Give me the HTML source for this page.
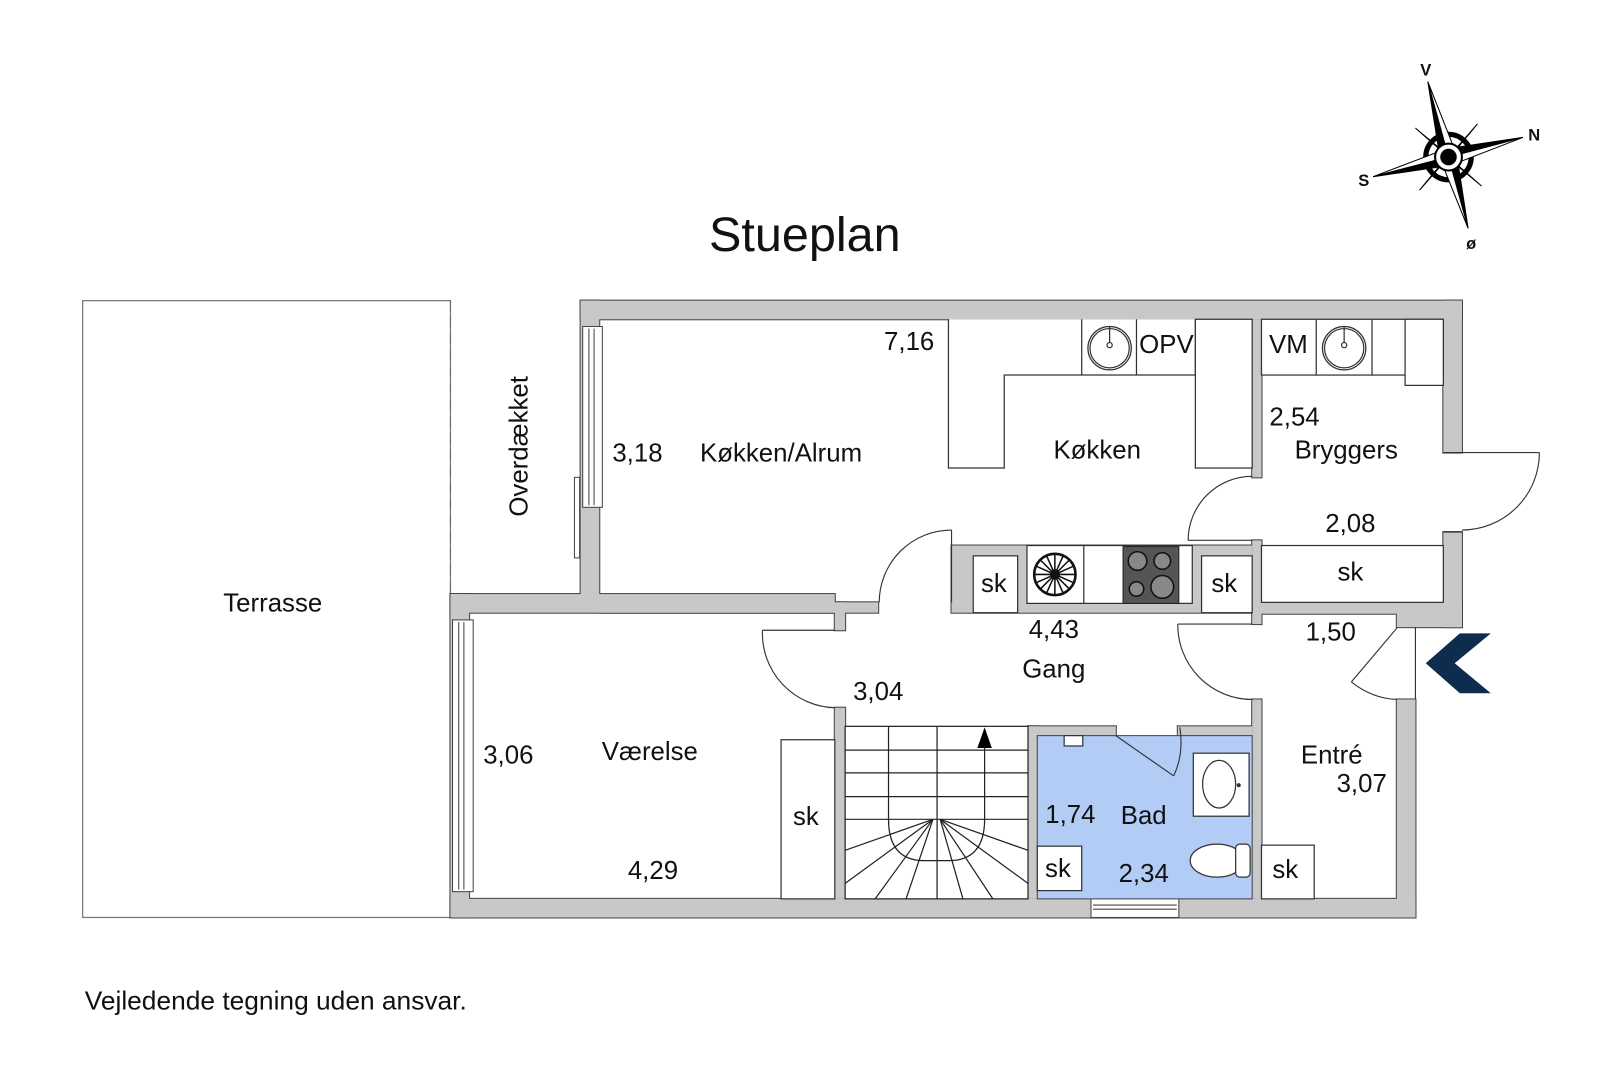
<!DOCTYPE html>
<html><head><meta charset="utf-8"><style>
html,body{margin:0;padding:0;background:#fff;}
svg{display:block;}
text{font-family:"Liberation Sans",Arial,sans-serif;fill:#111;}
</style></head><body>
<svg width="1620" height="1080" viewBox="0 0 1568 1045.3" xmlns="http://www.w3.org/2000/svg">
<defs>
<g id="walls">
<rect x="562" y="291" width="853" height="18"/>
<rect x="562" y="291" width="18" height="292"/>
<rect x="1397" y="291" width="18" height="147"/>
<rect x="1397" y="515" width="18" height="92"/>
<rect x="1212" y="309" width="9" height="153"/>
<rect x="1212" y="523" width="9" height="70"/>
<rect x="436" y="575" width="372" height="18"/>
<rect x="562" y="575" width="18" height="8"/>
<rect x="580" y="583" width="270" height="10"/>
<rect x="921" y="528" width="291" height="65"/>
<rect x="808" y="583" width="10" height="27"/>
<rect x="808" y="685" width="10" height="185"/>
<rect x="1212" y="581" width="185" height="13"/>
<rect x="1352" y="581" width="63" height="26"/>
<rect x="1212" y="581" width="9" height="23"/>
<rect x="1212" y="677" width="9" height="193"/>
<rect x="1352" y="677" width="18" height="211"/>
<rect x="995" y="703" width="85" height="9"/>
<rect x="1140" y="703" width="72" height="9"/>
<rect x="995" y="703" width="9" height="167"/>
<rect x="436" y="870" width="934" height="18"/>
<rect x="436" y="575" width="18" height="313"/>
</g>
</defs>
<rect x="0" y="0" width="1568" height="1046" fill="#fff"/>
<text x="779" y="243" font-size="47" text-anchor="middle">Stueplan</text>
<text x="82" y="977" font-size="25.5">Vejledende tegning uden ansvar.</text>

<rect x="80" y="291" width="356" height="597" fill="#fff" stroke="#777" stroke-width="1.2"/>
<line x1="436" y1="291" x2="436" y2="575" stroke="#666" stroke-width="1" stroke-dasharray="10,6"/>

<use href="#walls" fill="#c8c8c8" stroke="#444" stroke-width="2"/>
<use href="#walls" fill="#c8c8c8" stroke="none"/>

<g fill="#fff" stroke="#444" stroke-width="1">
<rect x="564" y="316" width="19" height="175"/>
<line x1="570" y1="318" x2="570" y2="489"/><line x1="575" y1="318" x2="575" y2="489"/>
<rect x="556" y="462" width="5" height="78"/>
<rect x="438" y="600" width="20" height="263"/>
<line x1="444" y1="602" x2="444" y2="861"/><line x1="449" y1="602" x2="449" y2="861"/>
<rect x="1056" y="866" width="85" height="22"/>
<line x1="1058" y1="876" x2="1139" y2="876"/><line x1="1058" y1="880" x2="1139" y2="880"/>
</g>

<rect x="1004" y="712" width="208" height="158" fill="#b2ccf6" stroke="#444" stroke-width="1"/>

<g fill="#fff" stroke="#333" stroke-width="1.2">
<rect x="942" y="538" width="43" height="55"/>
<rect x="994" y="528" width="160" height="56"/>
<line x1="1049" y1="528" x2="1049" y2="584"/>
<rect x="1163" y="538" width="49" height="55"/>
</g>
<rect x="1087" y="529" width="54" height="55" fill="#555" stroke="#222"/>
<g fill="#888" stroke="#111" stroke-width="1.5">
<circle cx="1101" cy="543" r="9"/><circle cx="1125" cy="543" r="8"/>
<circle cx="1100" cy="570" r="7"/><circle cx="1125" cy="568" r="11"/>
</g>
<g stroke="#111" stroke-width="1.5" fill="none">
<circle cx="1021" cy="556" r="20" stroke-width="2.5"/>
<line x1="1001" y1="556" x2="1041" y2="556"/><line x1="1021" y1="536" x2="1021" y2="576"/>
<line x1="1007" y1="542" x2="1035" y2="570"/><line x1="1035" y1="542" x2="1007" y2="570"/>
<line x1="1003" y1="548" x2="1039" y2="564"/><line x1="1003" y1="564" x2="1039" y2="548"/>
<line x1="1013" y1="538" x2="1029" y2="574"/><line x1="1029" y1="538" x2="1013" y2="574"/>
</g>
<circle cx="1021" cy="556" r="5" fill="#111"/>

<g fill="#fff" stroke="#333" stroke-width="1.2">
<path d="M918 309 L918 453 L972 453 L972 363 L1157 363 L1157 309"/>
<line x1="1047" y1="309" x2="1047" y2="363"/>
<line x1="1100" y1="309" x2="1100" y2="363"/>
<rect x="1157" y="309" width="55" height="144"/>
<rect x="1221" y="309" width="176" height="54"/>
<line x1="1274" y1="309" x2="1274" y2="363"/>
<line x1="1328" y1="309" x2="1328" y2="363"/>
<line x1="1360" y1="309" x2="1360" y2="363"/>
<rect x="1360" y="309" width="37" height="64"/>
<rect x="1221" y="528" width="176" height="55"/>
<rect x="756" y="716" width="52" height="154"/>
<rect x="1221" y="818" width="51" height="52"/>
</g>
<g fill="none" stroke="#333" stroke-width="1.2">
<circle cx="1074" cy="337" r="21"/><circle cx="1074" cy="337" r="19"/>
<circle cx="1301" cy="337" r="21"/><circle cx="1301" cy="337" r="19"/>
<line x1="1074" y1="316" x2="1074" y2="332"/><circle cx="1074" cy="334" r="2.5"/>
<line x1="1301" y1="316" x2="1301" y2="332"/><circle cx="1301" cy="334" r="2.5"/>
</g>

<g fill="none" stroke="#333" stroke-width="1.1">
<line x1="921" y1="513" x2="921" y2="583"/><path d="M921 513 A70 70 0 0 0 851 583"/>
<line x1="1150" y1="523" x2="1212" y2="523"/><path d="M1150 523 A62 62 0 0 1 1212 461"/>
<line x1="1415" y1="438" x2="1490" y2="438"/><path d="M1490 438 A75 75 0 0 1 1415 513"/>
<line x1="1397" y1="438" x2="1415" y2="438"/><line x1="1397" y1="515" x2="1415" y2="515"/>
<line x1="738" y1="610" x2="808" y2="610"/><path d="M738 610 A72 72 0 0 0 808 685"/>
<line x1="1140" y1="604" x2="1212" y2="604"/><path d="M1140 604 A72 72 0 0 0 1212 677"/>
<line x1="1352" y1="608" x2="1308" y2="660"/><path d="M1308 660 Q1328 676 1352 677"/>
<line x1="1370" y1="607" x2="1370" y2="677"/>
<line x1="1080" y1="712" x2="1136" y2="751"/><path d="M1136 751 Q1146 730 1142 704"/>
</g>

<g fill="#fff" stroke="#333" stroke-width="1.2">
<rect x="1155" y="729" width="54" height="61"/>
<ellipse cx="1180" cy="759" rx="16" ry="23"/>
<ellipse cx="1178" cy="833" rx="26" ry="16"/>
<rect x="1196" y="817" width="14" height="32" rx="4"/>
<rect x="1004" y="819" width="43" height="43"/>
<rect x="1030" y="712" width="18" height="10"/>
</g>
<circle cx="1199" cy="760" r="2" fill="#333"/>

<rect x="818" y="703" width="177" height="167" fill="#fff" stroke="#222" stroke-width="1.2"/>
<g fill="none" stroke="#222" stroke-width="1.2">
<line x1="818" y1="726" x2="995" y2="726"/>
<line x1="818" y1="748" x2="995" y2="748"/>
<line x1="818" y1="771" x2="995" y2="771"/>
<line x1="818" y1="793" x2="995" y2="793"/>
<line x1="860" y1="703" x2="860" y2="793"/>
<line x1="907" y1="703" x2="907" y2="870"/>
<line x1="953" y1="720" x2="953" y2="793"/>
<path d="M860 793 Q860 833 895 833 L918 833 Q953 833 953 793"/>
<line x1="903" y1="793" x2="818" y2="823"/>
<line x1="903" y1="793" x2="818" y2="855"/>
<line x1="903" y1="793" x2="847" y2="870"/>
<line x1="903" y1="793" x2="877" y2="870"/>
<line x1="910" y1="793" x2="932" y2="870"/>
<line x1="910" y1="793" x2="961" y2="870"/>
<line x1="910" y1="793" x2="995" y2="855"/>
<line x1="910" y1="793" x2="995" y2="823"/>
</g>
<polygon points="953,704 946,724 960,724" fill="#000"/>

<polygon points="1380,642 1413,613 1443,613 1408,642 1443,671 1413,671" fill="#0d2c4e"/>

<g transform="translate(1402,152)">
<circle r="22" fill="none" stroke="#000" stroke-width="5"/>
<g stroke="#000" stroke-width="1">
<polygon points="-32,-28 0,0 -3,-4" fill="#000"/>
<polygon points="28,-32 0,0 4,-3" fill="#000"/>
<polygon points="32,28 0,0 3,4" fill="#000"/>
<polygon points="-28,32 0,0 -4,3" fill="#000"/>
</g>
<g stroke="#000" stroke-width="1">
<polygon points="-20,-73 -8,2 0,0" fill="#000"/><polygon points="-20,-73 8,-2 0,0" fill="#fff"/>
<polygon points="72,-19 2,8 0,0" fill="#fff"/><polygon points="72,-19 -2,-8 0,0" fill="#000"/>
<polygon points="-73,19 -2,-8 0,0" fill="#fff"/><polygon points="-73,19 2,8 0,0" fill="#000"/>
<polygon points="19,69 8,-2 0,0" fill="#000"/><polygon points="19,69 -8,2 0,0" fill="#fff"/>
</g>
<circle r="13" fill="#fff" stroke="#000" stroke-width="2"/>
<circle r="8" fill="#000"/>
</g>
<g font-size="16" font-weight="bold" text-anchor="middle">
<text x="1380" y="73">V</text>
<text x="1485" y="136">N</text>
<text x="1320" y="180">S</text>
<text x="1424" y="241">ø</text>
</g>

<g font-size="25" text-anchor="middle" dominant-baseline="central">
<text x="880" y="331">7,16</text>
<text x="617" y="439">3,18</text>
<text x="756" y="439">Køkken/Alrum</text>
<text x="1062" y="436">Køkken</text>
<text x="1129" y="334">OPV</text>
<text x="1247" y="334">VM</text>
<text x="1253" y="404">2,54</text>
<text x="1303" y="436">Bryggers</text>
<text x="1307" y="507">2,08</text>
<text x="1307" y="554">sk</text>
<text x="962" y="565">sk</text>
<text x="1185" y="565">sk</text>
<text x="1020" y="610">4,43</text>
<text x="1020" y="648">Gang</text>
<text x="1288" y="612">1,50</text>
<text x="850" y="670">3,04</text>
<text x="629" y="728">Værelse</text>
<text x="492" y="731">3,06</text>
<text x="632" y="843">4,29</text>
<text x="780" y="791">sk</text>
<text x="1036" y="789">1,74</text>
<text x="1107" y="790">Bad</text>
<text x="1024" y="841">sk</text>
<text x="1107" y="846">2,34</text>
<text x="1289" y="731">Entré</text>
<text x="1318" y="759">3,07</text>
<text x="1244" y="842">sk</text>
<text x="264" y="584">Terrasse</text>
<text x="503" y="432" transform="rotate(-90 503 432)">Overdækket</text>
</g>
</svg>
</body></html>
